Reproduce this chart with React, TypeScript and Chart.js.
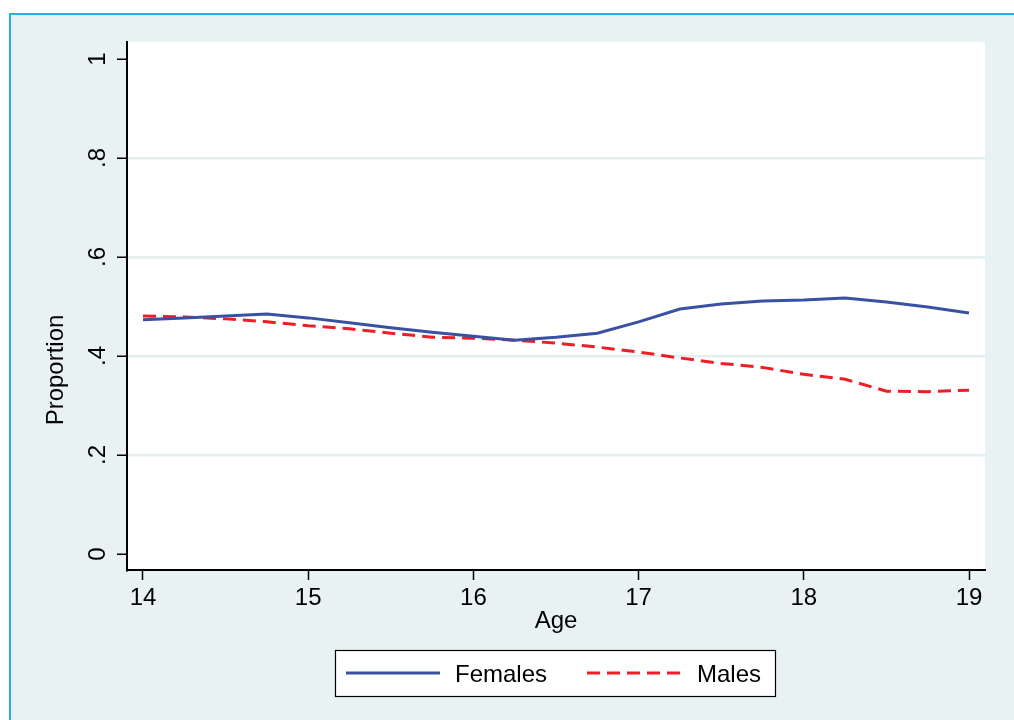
import React, { useEffect, useRef } from "react";
import { Chart, registerables } from "chart.js";

Chart.register(...registerables);

const ages = [14, 14.25, 14.5, 14.75, 15, 15.25, 15.5, 15.75, 16, 16.25, 16.5, 16.75, 17, 17.25, 17.5, 17.75, 18, 18.25, 18.5, 18.75, 19];
const females = [0.473, 0.477, 0.481, 0.485, 0.477, 0.467, 0.457, 0.448, 0.44, 0.432, 0.438, 0.446, 0.469, 0.495, 0.505, 0.511, 0.513, 0.517, 0.509, 0.499, 0.487];
const males = [0.481, 0.479, 0.475, 0.469, 0.461, 0.455, 0.446, 0.438, 0.436, 0.432, 0.426, 0.418, 0.408, 0.396, 0.385, 0.377, 0.363, 0.353, 0.329, 0.328, 0.331];
const seriesNames = ["Females", "Males"];
const xTickValues = [14, 15, 16, 17, 18, 19];
const yTickValues = [0, 0.2, 0.4, 0.6, 0.8, 1];
const yTickLabels = ["0", ".2", ".4", ".6", ".8", "1"];
const xTitle = "Age";
const yTitle = "Proportion";

const FONT = '"Liberation Sans", Arial, Helvetica, sans-serif';
const BG = "#E8F2F3";
const GRID = "#E4EFF0";
const BLUE = "#3A51A3";
const RED = "#EE1D26";
const DASH = [13, 7];

const framePlugin = {
  id: "stataFrame",
  beforeDraw(chart: any) {
    const { ctx, width, height, chartArea } = chart;
    ctx.save();
    ctx.fillStyle = "#ffffff";
    ctx.fillRect(0, 0, width, height);
    ctx.fillStyle = BG;
    ctx.fillRect(10, 14, width - 10, height - 14);
    ctx.strokeStyle = "#2AACE2";
    ctx.lineWidth = 2;
    ctx.beginPath();
    ctx.moveTo(10, height);
    ctx.lineTo(10, 14);
    ctx.lineTo(width, 14);
    ctx.stroke();
    ctx.fillStyle = "#ffffff";
    ctx.fillRect(chartArea.left, chartArea.top, chartArea.right - chartArea.left, chartArea.bottom - chartArea.top);
    ctx.restore();
  },
  afterDraw(chart: any) {
    const { ctx, chartArea } = chart;
    const ys = chart.scales.y;
    ctx.save();
    ctx.fillStyle = "#000";
    ctx.font = `24px ${FONT}`;
    // rotated y tick labels
    ys.ticks.forEach((t: any) => {
      const idx = yTickValues.indexOf(t.value);
      const label = idx >= 0 ? yTickLabels[idx] : String(t.value);
      const py = ys.getPixelForValue(t.value);
      ctx.save();
      ctx.translate(105, py);
      ctx.rotate(-Math.PI / 2);
      ctx.textAlign = "center";
      ctx.textBaseline = "alphabetic";
      ctx.fillText(label, 0, 0);
      ctx.restore();
    });
    // y title
    ctx.save();
    ctx.translate(63, 370);
    ctx.rotate(-Math.PI / 2);
    ctx.textAlign = "center";
    ctx.textBaseline = "alphabetic";
    ctx.fillText(yTitle, 0, 0);
    ctx.restore();
    // x title
    ctx.textAlign = "center";
    ctx.textBaseline = "alphabetic";
    ctx.fillText(xTitle, (chartArea.left + chartArea.right) / 2, 628);

    // legend
    ctx.fillStyle = "#ffffff";
    ctx.fillRect(335, 650, 440, 46);
    ctx.strokeStyle = "#000";
    ctx.lineWidth = 1.2;
    ctx.strokeRect(335.5, 650.5, 440, 46);
    const ds = chart.data.datasets;
    ctx.lineWidth = 3;
    ctx.strokeStyle = ds[0].borderColor;
    ctx.setLineDash([]);
    ctx.beginPath();
    ctx.moveTo(346, 673);
    ctx.lineTo(440, 673);
    ctx.stroke();
    ctx.strokeStyle = ds[1].borderColor;
    ctx.setLineDash(DASH);
    ctx.beginPath();
    ctx.moveTo(587, 673);
    ctx.lineTo(681, 673);
    ctx.stroke();
    ctx.setLineDash([]);
    ctx.fillStyle = "#000";
    ctx.textAlign = "left";
    ctx.fillText(ds[0].label, 455, 682);
    ctx.fillText(ds[1].label, 697, 682);
    ctx.restore();
  },
};

export default function App() {
  const canvasRef = useRef<HTMLCanvasElement | null>(null);

  useEffect(() => {
    document.body.style.margin = "0";
    const canvas = canvasRef.current;
    if (!canvas) return;
    const chart = new Chart(canvas, {
      type: "line",
      data: {
        datasets: [
          {
            label: seriesNames[0],
            data: ages.map((a, i) => ({ x: a, y: females[i] })),
            borderColor: BLUE,
            borderWidth: 3,
            pointRadius: 0,
            fill: false,
            tension: 0,
          },
          {
            label: seriesNames[1],
            data: ages.map((a, i) => ({ x: a, y: males[i] })),
            borderColor: RED,
            borderWidth: 3,
            borderDash: DASH,
            pointRadius: 0,
            fill: false,
            tension: 0,
          },
        ],
      },
      options: {
        responsive: true,
        maintainAspectRatio: false,
        animation: false,
        events: [],
        layout: { padding: { left: 0, top: 42, right: 29, bottom: 0 } },
        plugins: {
          legend: { display: false },
          tooltip: { enabled: false },
          title: { display: false },
        },
        scales: {
          x: {
            type: "linear",
            min: 14 - 16 / 165.2,
            max: 19 + 16 / 165.2,
            afterBuildTicks: (s: any) => {
              s.ticks = xTickValues.map((v) => ({ value: v }));
            },
            afterFit: (s: any) => {
              s.height = 150;
            },
            grid: {
              drawOnChartArea: false,
              drawTicks: true,
              tickLength: 10,
              tickColor: "#000",
              tickWidth: 1.5,
            },
            border: { display: true, color: "#000", width: 2 },
            ticks: {
              color: "#000",
              font: { family: FONT, size: 24 },
              padding: 4,
              maxRotation: 0,
              autoSkip: false,
              callback: (v: any) => String(v),
            },
          },
          y: {
            type: "linear",
            min: -16 / 495,
            max: 1 + 17 / 495,
            afterBuildTicks: (s: any) => {
              s.ticks = yTickValues.map((v) => ({ value: v }));
            },
            afterFit: (s: any) => {
              s.width = 127;
            },
            grid: {
              drawOnChartArea: true,
              drawTicks: true,
              tickLength: 10,
              tickColor: "#000",
              tickWidth: 1.5,
              lineWidth: 2.5,
              color: (c: any) => {
                const v = c.tick ? c.tick.value : null;
                return v === 0 || v === 1 ? "rgba(0,0,0,0)" : GRID;
              },
            },
            border: { display: true, color: "#000", width: 2 },
            ticks: { display: false },
          },
        },
      },
      plugins: [framePlugin],
    });
    return () => chart.destroy();
  }, []);

  return (
    <div style={{ position: "fixed", left: 0, top: 0, width: "1014px", height: "720px" }}>
      <canvas ref={canvasRef} />
    </div>
  );
}
